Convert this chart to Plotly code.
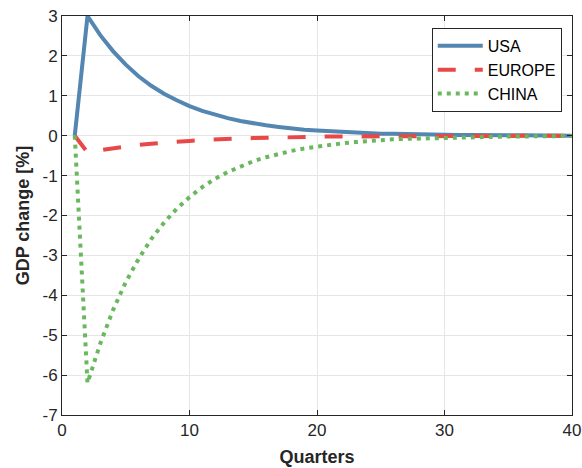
import plotly.graph_objects as go

quarters = list(range(1, 41))
usa = [0, 3.00, 2.52, 2.12, 1.78, 1.49, 1.25, 1.05, 0.89, 0.74, 0.62, 0.52, 0.44, 0.37,
       0.31, 0.26, 0.22, 0.18, 0.15, 0.13, 0.11, 0.09, 0.08, 0.06, 0.05, 0.05, 0.04, 0.03,
       0.03, 0.02, 0.02, 0.02, 0.01, 0.01, 0.01, 0.01, 0.01, 0.01, 0.00, 0.00]
europe = [0, -0.42, -0.36, -0.31, -0.27, -0.23, -0.20, -0.17, -0.15, -0.13, -0.11, -0.09,
          -0.08, -0.07, -0.06, -0.05, -0.04, -0.04, -0.03, -0.03, -0.02, -0.02, -0.02, -0.02,
          -0.01, -0.01, -0.01, -0.01, -0.01, -0.01, -0.01, 0, 0, 0, 0, 0, 0, 0, 0, 0]
china = [0, -6.20, -5.21, -4.37, -3.67, -3.09, -2.59, -2.18, -1.83, -1.54, -1.29, -1.08,
         -0.91, -0.77, -0.64, -0.54, -0.45, -0.38, -0.32, -0.27, -0.23, -0.19, -0.16, -0.13,
         -0.11, -0.09, -0.08, -0.07, -0.06, -0.05, -0.04, -0.03, -0.03, -0.02, -0.02, -0.02,
         -0.01, -0.01, -0.01, -0.01]
x_ticks = [0, 10, 20, 30, 40]
y_ticks = [3, 2, 1, 0, -1, -2, -3, -4, -5, -6, -7]
y_tick_labels = ["3", "2", "1", "0", "-1", "-2", "-3", "-4", "-5", "-6", "-7"]

FONT = "Liberation Sans, Arial"
fig = go.Figure()
fig.add_trace(go.Scatter(x=quarters, y=usa, mode="lines", name="USA",
                         line=dict(color="rgb(84,134,178)", width=4)))
fig.add_trace(go.Scatter(x=quarters, y=europe, mode="lines", name="EUROPE",
                         line=dict(color="rgb(232,72,72)", width=4, dash="18px,19px")))
fig.add_trace(go.Scatter(x=quarters, y=china, mode="lines", name="CHINA",
                         line=dict(color="rgb(106,184,94)", width=4, dash="4px,5px")))

axis_common = dict(
    showline=True, linecolor="#262626", linewidth=1, mirror="ticks",
    ticks="inside", ticklen=5, tickcolor="#262626",
    showgrid=True, gridcolor="#e6e6e6", gridwidth=1, zeroline=False,
    tickfont=dict(family=FONT, size=17, color="#262626"),
    automargin=False,
)
fig.update_xaxes(range=[0, 40], tickvals=x_ticks,
                 title=dict(text="<b>Quarters</b>", standoff=10,
                            font=dict(family=FONT, size=18, color="#262626")),
                 **axis_common)
fig.update_yaxes(range=[-7, 3], tickvals=y_ticks, ticktext=y_tick_labels,
                 title=dict(text="<b>GDP change [%]</b>", standoff=8,
                            font=dict(family=FONT, size=18, color="#262626")),
                 **axis_common)
fig.update_layout(
    width=582, height=468,
    margin=dict(l=62, r=10, t=16, b=53),
    plot_bgcolor="white", paper_bgcolor="white",
    legend=dict(x=0.725, y=0.97, xanchor="left", yanchor="top",
                bgcolor="white", bordercolor="#262626", borderwidth=1,
                font=dict(family=FONT, size=16, color="#000000"),
                tracegroupgap=0, itemwidth=45),
    showlegend=True,
)
fig.write_html("out.html")
